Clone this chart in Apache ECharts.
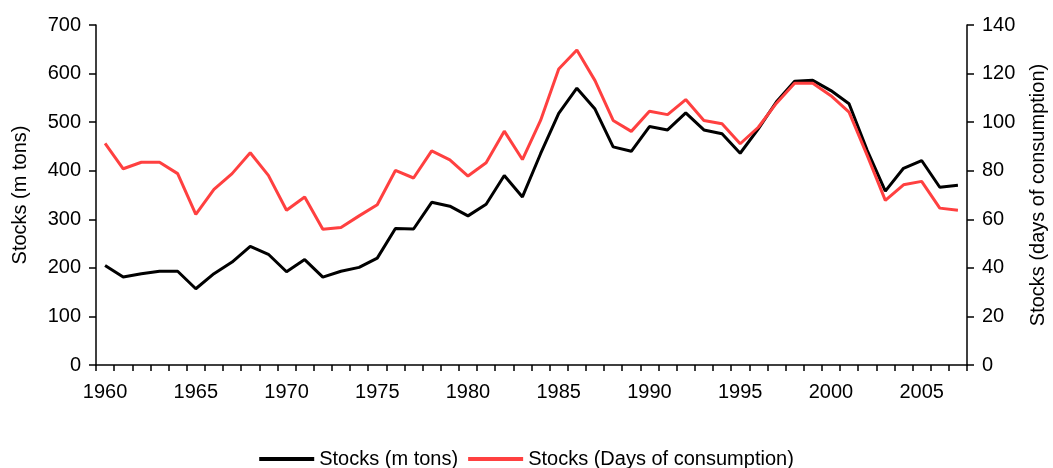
<!DOCTYPE html>
<html>
<head>
<meta charset="utf-8">
<script src="https://cdn.jsdelivr.net/npm/echarts@6/dist/echarts.min.js"></script>
<style>
html,body{margin:0;padding:0;background:#fff;}
#chart{width:1053px;height:468px;}
</style>
</head>
<body>
<div id="chart"></div>
<script>
var years = [];
for (var y = 1960; y <= 2007; y++) years.push(String(y));

var stocksTons = [205,181,188,193,193,157,188,212,244,228,192,217,181,193,201,220,281,280,335,327,307,331,390,346,435,518,570,527,449,440,491,484,519,484,476,436,486,542,584,586,565,538,442,358,405,421,366,370];
var stocksDays = [91.3,80.8,83.5,83.5,78.8,62,72.3,78.8,87.4,78.1,63.7,69.2,55.9,56.6,61.4,66,80.1,77,88.2,84.5,77.8,83.3,96.3,84.6,100.7,121.9,129.7,117.1,100.7,96.2,104.5,103.1,109.3,100.7,99.3,91.1,97.9,107.8,116,116,110.9,104.1,86.3,67.8,74.2,75.6,64.6,63.7];

var leftName = 'Stocks (m tons)';
var rightName = 'Stocks (days of consumption)';
var seriesNames = ['Stocks (m tons)', 'Stocks (Days of consumption)'];

var font = 'Liberation Sans, Arial, sans-serif';
var chart = echarts.init(document.getElementById('chart'));
chart.setOption({
  animation: false,
  backgroundColor: '#fff',
  grid: {left: 96, right: 86, top: 25, bottom: 103, outerBoundsMode: 'none', containLabel: false},
  legend: {
    top: 444, left: 'center', padding: 5,
    itemWidth: 55, itemHeight: 4, itemGap: 10,
    icon: 'rect',
    textStyle: {fontFamily: font, fontSize: 20, color: '#000'},
    data: seriesNames
  },
  xAxis: {
    type: 'category',
    data: years,
    boundaryGap: true,
    axisLine: {lineStyle: {color: '#000', width: 1.5}},
    axisTick: {show: true, interval: 0, length: 6, lineStyle: {color: '#000', width: 1.5}},
    axisLabel: {interval: 4, margin: 17, color: '#000', fontFamily: font, fontSize: 20},
    splitLine: {show: false}
  },
  yAxis: [{
    type: 'value', min: 0, max: 700, interval: 100,
    name: leftName, nameLocation: 'middle', nameGap: 66,
    nameTextStyle: {color: '#000', fontFamily: font, fontSize: 20},
    axisLine: {show: true, lineStyle: {color: '#000', width: 1.5}},
    axisTick: {show: true, length: 7, lineStyle: {color: '#000', width: 1.5}},
    axisLabel: {margin: 15, color: '#000', fontFamily: font, fontSize: 20},
    splitLine: {show: false}
  }, {
    type: 'value', min: 0, max: 140, interval: 20,
    name: rightName, nameLocation: 'middle', nameGap: 61,
    nameTextStyle: {color: '#000', fontFamily: font, fontSize: 20},
    axisLine: {show: true, lineStyle: {color: '#000', width: 1.5}},
    axisTick: {show: true, length: 7, lineStyle: {color: '#000', width: 1.5}},
    axisLabel: {margin: 15, color: '#000', fontFamily: font, fontSize: 20},
    splitLine: {show: false}
  }],
  series: [{
    name: seriesNames[0], type: 'line', yAxisIndex: 0,
    data: stocksTons, showSymbol: false, symbol: 'none',
    lineStyle: {color: '#000', width: 3}, itemStyle: {color: '#000'}
  }, {
    name: seriesNames[1], type: 'line', yAxisIndex: 1,
    data: stocksDays, showSymbol: false, symbol: 'none',
    lineStyle: {color: '#ff4040', width: 3}, itemStyle: {color: '#ff4040'}
  }]
});
</script>
</body>
</html>
